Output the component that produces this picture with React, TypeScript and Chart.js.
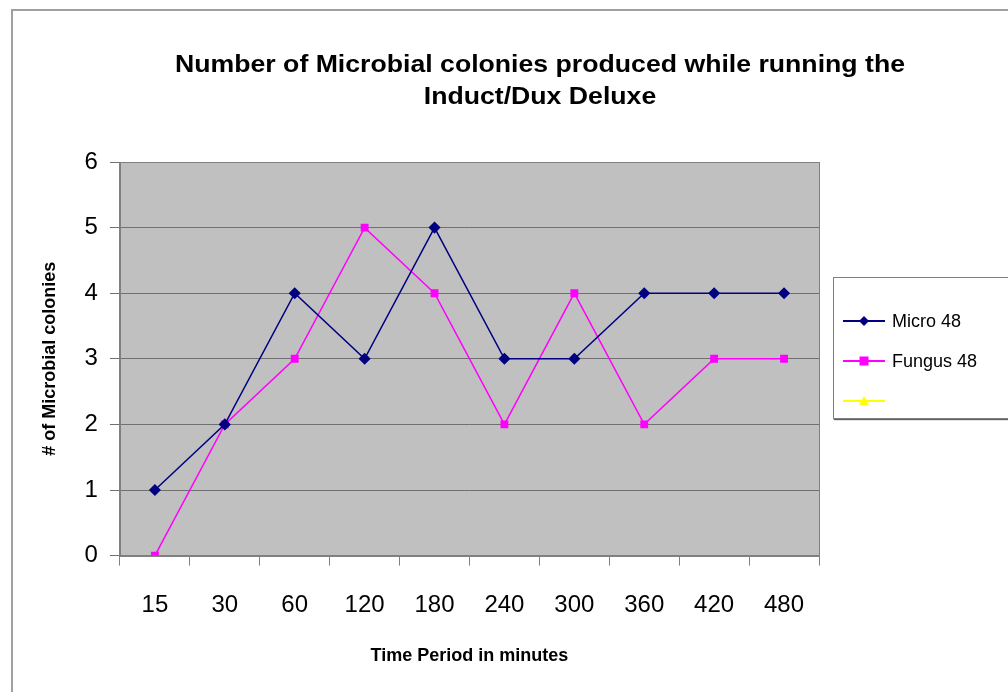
import React, { useEffect, useRef } from 'react';
import { Chart, registerables } from 'chart.js';
Chart.register(...registerables);

const categories = ['15', '30', '60', '120', '180', '240', '300', '360', '420', '480'];
const micro48 = [1, 2, 4, 3, 5, 3, 3, 4, 4, 4];
const fungus48 = [0, 2, 3, 5, 4, 2, 4, 2, 3, 3];
const series3: (number | null)[] = [];
const titleLines = ['Number of Microbial colonies produced while running the', 'Induct/Dux Deluxe'];
const yTitle = '# of Microbial colonies';
const xTitle = 'Time Period in minutes';

const plotBg = {
  id: 'plotBg',
  beforeDraw(chart: any) {
    const { ctx, chartArea: a } = chart;
    ctx.save();
    ctx.fillStyle = '#C0C0C0';
    ctx.fillRect(a.left, a.top, a.right - a.left, a.bottom - a.top);
    ctx.restore();
  },
  afterDraw(chart: any) {
    const { ctx, chartArea: a } = chart;
    ctx.save();
    ctx.strokeStyle = '#808080';
    ctx.lineWidth = 1;
    ctx.strokeRect(Math.round(a.left) + 0.5, Math.round(a.top) + 0.5, Math.round(a.right - a.left), Math.round(a.bottom - a.top));
    ctx.restore();
  },
};

const titlePlugin = {
  id: 'customTitle',
  afterDraw(chart: any) {
    const { ctx } = chart;
    ctx.save();
    ctx.font = 'bold 24px "Liberation Sans", Arial, sans-serif';
    ctx.fillStyle = '#000';
    ctx.textAlign = 'center';
    ctx.textBaseline = 'alphabetic';
    const w0 = ctx.measureText(titleLines[0]).width;
    const sx = 730 / w0;
    const cx = 540;
    const baselines = [72, 104];
    titleLines.forEach((line, i) => {
      ctx.save();
      ctx.translate(cx, baselines[i]);
      ctx.scale(sx, 1);
      ctx.fillText(line, 0, 0);
      ctx.restore();
    });
    ctx.restore();
  },
};

export default function App() {
  const ref = useRef<HTMLCanvasElement>(null);
  useEffect(() => {
    if (!ref.current) return;
    const chart = new Chart(ref.current, {
      type: 'line',
      data: {
        labels: categories,
        datasets: [
          {
            label: 'Micro 48',
            data: micro48,
            borderColor: '#000080',
            backgroundColor: '#000080',
            borderWidth: 1.5,
            pointStyle: 'rectRot',
            pointRadius: 5,
            pointHoverRadius: 5,
            tension: 0,
          },
          {
            label: 'Fungus 48',
            data: fungus48,
            borderColor: '#FF00FF',
            backgroundColor: '#FF00FF',
            borderWidth: 1.5,
            pointStyle: 'rect',
            pointRadius: 4.5,
            pointHoverRadius: 4.5,
            tension: 0,
          },
          {
            label: '',
            data: series3,
            borderColor: '#FFFF00',
            backgroundColor: '#FFFF00',
            pointStyle: 'triangle',
          },
        ],
      },
      options: {
        animation: false,
        responsive: false,
        devicePixelRatio: 1,
        layout: { padding: { top: 162, left: 39, right: 261, bottom: 25 } },
        plugins: {
          legend: { display: false },
          tooltip: { enabled: false },
          title: { display: false },
        },
        scales: {
          x: {
            offset: true,
            grid: {
              offset: true,
              drawOnChartArea: false,
              drawTicks: true,
              tickLength: 10,
              color: '#808080',
            },
            border: { color: '#808080' },
            ticks: {
              color: '#000',
              padding: 25,
              font: { family: '"Liberation Sans", Arial, sans-serif', size: 24 },
              maxRotation: 0,
              autoSkip: false,
            },
            title: {
              display: true,
              text: xTitle,
              color: '#000',
              font: { family: '"Liberation Sans", Arial, sans-serif', size: 18, weight: 'bold' },
              padding: { top: 1, bottom: 0 },
            },
          },
          y: {
            min: 0,
            max: 6,
            ticks: {
              stepSize: 1,
              color: '#000',
              padding: 12,
              font: { family: '"Liberation Sans", Arial, sans-serif', size: 24 },
            },
            grid: { color: '#707070', tickLength: 10, lineWidth: 1 },
            border: { color: '#808080' },
            title: {
              display: true,
              text: yTitle,
              color: '#000',
              font: { family: '"Liberation Sans", Arial, sans-serif', size: 18, weight: 'bold' },
              padding: { top: 0, bottom: 12 },
            },
          },
        },
      },
      plugins: [plotBg, titlePlugin],
    });
    return () => chart.destroy();
  }, []);

  const legendItems = [
    { label: 'Micro 48', color: '#000080', shape: 'diamond' },
    { label: 'Fungus 48', color: '#FF00FF', shape: 'square' },
    { label: '', color: '#FFFF00', shape: 'triangle' },
  ];

  const marker = (shape: string, color: string) => {
    if (shape === 'diamond') return <polygon points="21,3 26,8 21,13 16,8" fill={color} />;
    if (shape === 'square') return <rect x="16.5" y="3.5" width="9" height="9" fill={color} />;
    return <polygon points="21,3 26,12 16,12" fill={color} />;
  };

  return (
    <div style={{ position: 'fixed', left: 0, top: 0, width: 1008, height: 692, overflow: 'hidden', background: '#fff' }}>
      <div style={{ position: 'absolute', left: 11, top: 9, width: 1200, height: 900, borderLeft: '2px solid #a0a0a0', borderTop: '2px solid #a0a0a0' }} />
      <canvas ref={ref} width={1080} height={692} style={{ position: 'absolute', left: 0, top: 0, width: 1080, height: 692 }} />
      <div style={{ position: 'absolute', left: 833, top: 277, width: 200, height: 140, border: '1px solid #808080', boxShadow: '1px 1px 1px #606060', background: '#fff' }}>
        {legendItems.map((it, i) => (
          <div key={i} style={{ position: 'absolute', left: 9, top: 33 + i * 40, height: 20, display: 'flex', alignItems: 'center' }}>
            <svg width={44} height={16} style={{ display: 'block' }}>
              <line x1={0} y1={8} x2={42} y2={8} stroke={it.color} strokeWidth={2} />
              {marker(it.shape, it.color)}
            </svg>
            <span style={{ font: '18px "Liberation Sans", Arial, sans-serif', color: '#000', marginLeft: 5, whiteSpace: 'nowrap' }}>{it.label}</span>
          </div>
        ))}
      </div>
    </div>
  );
}
